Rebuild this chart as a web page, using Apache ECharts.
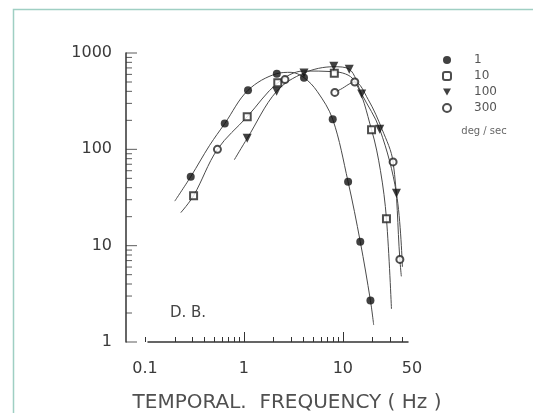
<!DOCTYPE html>
<html>
<head>
<meta charset="UTF-8">
<title>Temporal frequency tuning</title>
<script src="https://cdn.jsdelivr.net/npm/echarts@6/dist/echarts.min.js"></script>
<style>
html, body { margin: 0; padding: 0; background: #fff; }
#chart { width: 533px; height: 413px; }
</style>
</head>
<body>
<div id="chart"></div>
<script type="text/javascript">
// speed 1 deg/sec (filled circles)
var v1X = [0.29, 0.64, 1.1, 2.15, 4.05, 7.9, 11.3, 15, 19];
var v1Y = [52, 185, 410, 610, 555, 205, 46, 11, 2.7];
var fit1X = [0.2, 0.29, 0.45, 0.64, 1.1, 2.15, 3, 4.05, 5.5, 7.9, 11.3, 15, 19, 20.5];
var fit1Y = [29, 52, 110, 185, 410, 610, 630, 555, 400, 205, 46, 11, 2.7, 1.5];

// speed 10 deg/sec (open squares)
var v10X = [0.31, 1.08, 2.2, 8.2, 19.5, 27.6];
var v10Y = [33, 218, 490, 615, 160, 19];
var fit10X = [0.23, 0.31, 0.54, 1.08, 2.2, 4, 8.2, 13, 19.5, 24, 27.6, 31];
var fit10Y = [22, 33, 100, 218, 490, 650, 640, 520, 160, 60, 19, 2.2];

// speed 100 deg/sec (filled triangles)
var v100X = [1.08, 2.14, 4.05, 8.1, 11.6, 15.5, 23.6, 34.8];
var v100Y = [130, 400, 620, 730, 680, 375, 162, 35];
var fit100X = [0.8, 1.08, 2.14, 4.05, 8.1, 11.6, 15.5, 23.6, 34.8, 40];
var fit100Y = [78, 130, 400, 620, 720, 680, 375, 162, 35, 6];

// speed 300 deg/sec (open circles)
var v300X = [0.54, 2.6, 8.3, 13.2, 32.2, 37.7];
var v300Y = [100, 530, 390, 500, 74, 7.2];
var fit300X = [8.3, 9.5, 13.2, 18, 25, 32.2, 37.7, 39];
var fit300Y = [390, 420, 500, 330, 160, 74, 7.2, 4.8];

// axis ticks
var yLabels = [1, 10, 100, 1000];
var yMinor = [2, 3, 4, 5, 6, 7, 8, 9, 20, 30, 40, 50, 60, 70, 80, 90, 200, 300, 400, 500, 600, 700, 800, 900];
var xLabels = [0.1, 1, 10, 50];
var xMajor = [1, 10];
var xMinor = [0.1, 0.2, 0.3, 0.4, 0.5, 0.6, 0.7, 0.8, 0.9, 2, 3, 4, 5, 6, 7, 8, 9, 20, 30, 40];

var X_MIN = 0.0643, X_MAX = 50;
var Y_MIN = 1, Y_MAX = 1000;

function pairs(xs, ys) {
	var out = [];
	for (var i = 0; i < xs.length; i++) {
		out.push([ xs[i], ys[i] ]);
	}
	return out;
}

// decades above the axis minimum, for the tick-only value axes
function decades(vals, base) {
	return vals.map(function(v) {
		return Math.log10(v / base);
	});
}

var chart = echarts.init(document.getElementById('chart'));

var curveStyle = {
	color : '#4a4a4a',
	width : 1
};

function curve(name, xs, ys) {
	return {
		name : name,
		type : 'line',
		data : pairs(xs, ys),
		smooth : 0.35,
		symbol : 'none',
		silent : true,
		lineStyle : curveStyle,
		z : 1
	};
}

// y ticks: short bars sitting on the y axis, placed through the log scale
function yTicks(name, vals, len) {
	return {
		name : name,
		type : 'scatter',
		data : vals.map(function(v) {
			return [ X_MIN, v ];
		}),
		symbol : 'rect',
		symbolSize : [ len, 1 ],
		symbolOffset : [ len / 2, 0 ],
		clip : false,
		silent : true,
		itemStyle : {
			color : '#333'
		},
		z : 2
	};
}

function off() {
	return {
		show : false
	};
}

// tick-only x axis on its own grid
function tickAxis(grid, lo, hi, ticks, len) {
	return {
		type : 'value',
		gridIndex : grid,
		position : 'bottom',
		min : 0,
		max : Math.log10(hi / lo),
		axisLine : off(),
		splitLine : off(),
		axisLabel : off(),
		axisTick : {
			show : true,
			inside : true,
			length : len,
			customValues : decades(ticks, lo),
			lineStyle : {
				color : '#333',
				width : 1
			}
		}
	};
}

function blankAxis(grid) {
	return {
		type : 'value',
		gridIndex : grid,
		min : 0,
		max : 1,
		show : false
	};
}

var axisLineStyle = {
	show : true,
	lineStyle : {
		color : '#333',
		width : 1.5
	}
};

var labelFmt = function(v) {
	return String(v);
};

function box(left, width) {
	return {
		left : left,
		top : 53,
		width : width,
		height : 289
	};
}

chart.setOption({
	animation : false,
	textStyle : {
		fontFamily : 'DejaVu Sans'
	},
	graphic : [ {
		type : 'polyline',
		shape : {
			points : [ [ 13.5, 413 ], [ 13.5, 9.5 ], [ 533, 9.5 ] ]
		},
		style : {
			stroke : '#9fcfc3',
			lineWidth : 1.5,
			fill : null
		}
	}, {
		type : 'text',
		x : 188,
		y : 313,
		style : {
			text : 'D. B.',
			font : '15px "DejaVu Sans"',
			fill : '#444',
			align : 'center',
			verticalAlign : 'middle'
		}
	}, {
		type : 'text',
		x : 484,
		y : 131,
		style : {
			text : 'deg / sec',
			font : '10px "DejaVu Sans"',
			fill : '#666',
			align : 'center',
			verticalAlign : 'middle'
		}
	}, {
		type : 'text',
		x : 287,
		y : 403,
		style : {
			text : 'TEMPORAL.  FREQUENCY ( Hz )',
			font : '20px "DejaVu Sans"',
			fill : '#505050',
			align : 'center',
			verticalAlign : 'middle'
		}
	} ],
	legend : {
		orient : 'vertical',
		left : 437,
		top : 49,
		itemWidth : 8,
		itemHeight : 8,
		itemGap : 4,
		textStyle : {
			fontSize : 12,
			color : '#555',
			padding : [ 0, 0, 0, 18 ]
		},
		data : [ '1', {
			name : '10',
			icon : 'emptyRoundRect'
		}, {
			name : '100',
			icon : 'path://M0,0 L10,0 L5,9 Z'
		}, '300' ]
	},
	// 0 data, 1-2 x ticks, 3 x axis line
	grid : [ box(126, 286), box(126, 286), box(126, 286), box(148, 260) ],
	xAxis : [ {
		type : 'log',
		gridIndex : 0,
		min : X_MIN,
		max : X_MAX,
		axisLine : off(),
		axisTick : off(),
		splitLine : off(),
		axisLabel : {
			customValues : xLabels,
			margin : 19,
			fontSize : 16,
			color : '#3a3a3a',
			formatter : labelFmt
		}
	}, tickAxis(1, X_MIN, X_MAX, xMinor, 5), tickAxis(2, X_MIN, X_MAX, xMajor, 10), {
		type : 'value',
		gridIndex : 3,
		min : 0,
		max : 1,
		axisLine : axisLineStyle,
		axisTick : off(),
		axisLabel : off(),
		splitLine : off()
	} ],
	yAxis : [ {
		type : 'log',
		gridIndex : 0,
		min : Y_MIN,
		max : Y_MAX,
		axisLine : axisLineStyle,
		axisTick : off(),
		splitLine : off(),
		axisLabel : {
			customValues : yLabels,
			margin : 14,
			fontSize : 16,
			color : '#3a3a3a',
			formatter : labelFmt
		}
	}, blankAxis(1), blankAxis(2), blankAxis(3) ],
	series : [ yTicks('yMinorTicks', yMinor, 6), yTicks('yMajorTicks', yLabels, 11),
			curve('fit1', fit1X, fit1Y), curve('fit10', fit10X, fit10Y),
			curve('fit100', fit100X, fit100Y),
			curve('fit300', fit300X, fit300Y), {
				name : '1',
				type : 'scatter',
				data : pairs(v1X, v1Y),
				symbol : 'circle',
				symbolSize : 8,
				itemStyle : {
					color : '#111'
				},
				z : 3
			}, {
				name : '10',
				type : 'scatter',
				data : pairs(v10X, v10Y),
				symbol : 'emptyRect',
				symbolSize : 7,
				itemStyle : {
					color : '#222',
					borderWidth : 1.2
				},
				z : 3
			}, {
				name : '100',
				type : 'scatter',
				data : pairs(v100X, v100Y),
				symbol : 'triangle',
				symbolRotate : 180,
				symbolSize : 9,
				itemStyle : {
					color : '#111'
				},
				z : 3
			}, {
				name : '300',
				type : 'scatter',
				data : pairs(v300X, v300Y),
				symbol : 'emptyCircle',
				symbolSize : 7,
				itemStyle : {
					color : '#222',
					borderWidth : 1.2
				},
				z : 3
			} ]
});
</script>
</body>
</html>
